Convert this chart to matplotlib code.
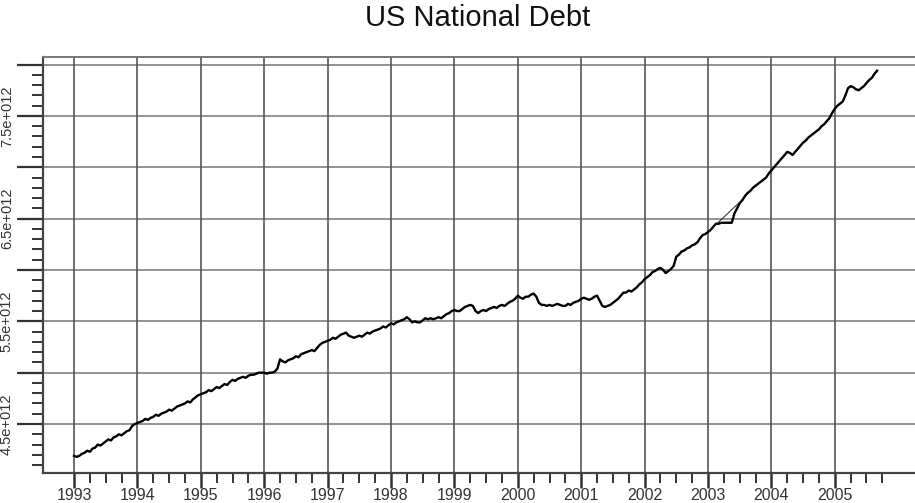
import numpy as np
import matplotlib; matplotlib.use('Agg')
import matplotlib.pyplot as plt
from matplotlib.ticker import MultipleLocator, FixedLocator

# debt in units of 1e12 dollars, two readings per month
START_YEAR = 1993
PER_YEAR = 24
DEBT = [
    # 1993
    4.19, 4.18, 4.19, 4.21, 4.22, 4.24, 4.23, 4.26, 4.27, 4.30, 4.29, 4.31,
    4.33, 4.35, 4.34, 4.37, 4.38, 4.40, 4.39, 4.41, 4.43, 4.44, 4.48, 4.50,
    # 1994
    4.51, 4.52, 4.53, 4.55, 4.54, 4.56, 4.57, 4.59, 4.58, 4.60, 4.61, 4.62,
    4.64, 4.63, 4.65, 4.67, 4.68, 4.69, 4.70, 4.72, 4.71, 4.74, 4.76, 4.78,
    # 1995
    4.79, 4.80, 4.81, 4.83, 4.82, 4.84, 4.86, 4.85, 4.87, 4.89, 4.88, 4.91,
    4.93, 4.92, 4.94, 4.95, 4.96, 4.95, 4.97, 4.98, 4.98, 4.99, 5.00, 5.00,
    # 1996
    5.00, 4.99, 5.00, 5.00, 5.01, 5.04, 5.13, 5.11, 5.10, 5.12, 5.13, 5.14,
    5.16, 5.15, 5.18, 5.19, 5.20, 5.21, 5.22, 5.21, 5.24, 5.27, 5.29, 5.30,
    # 1997
    5.31, 5.32, 5.34, 5.33, 5.35, 5.37, 5.38, 5.39, 5.36, 5.35, 5.34, 5.35,
    5.36, 5.35, 5.37, 5.39, 5.38, 5.40, 5.41, 5.42, 5.43, 5.45, 5.44, 5.46,
    # 1998
    5.48, 5.47, 5.49, 5.50, 5.51, 5.52, 5.54, 5.52, 5.49, 5.50, 5.49, 5.49,
    5.51, 5.53, 5.52, 5.53, 5.52, 5.53, 5.54, 5.53, 5.55, 5.57, 5.58, 5.60,
    # 1999
    5.61, 5.60, 5.60, 5.62, 5.64, 5.65, 5.66, 5.65, 5.60, 5.58, 5.60, 5.61,
    5.60, 5.62, 5.63, 5.64, 5.63, 5.65, 5.66, 5.65, 5.67, 5.69, 5.70, 5.72,
    # 2000
    5.75, 5.73, 5.72, 5.74, 5.74, 5.76, 5.77, 5.74, 5.68, 5.66, 5.66, 5.65,
    5.66, 5.65, 5.66, 5.67, 5.66, 5.65, 5.65, 5.67, 5.66, 5.68, 5.69, 5.70,
    # 2001
    5.72, 5.73, 5.72, 5.71, 5.72, 5.74, 5.75, 5.70, 5.65, 5.64, 5.65, 5.66,
    5.68, 5.70, 5.72, 5.75, 5.78, 5.78, 5.80, 5.79, 5.81, 5.83, 5.86, 5.88,
    # 2002
    5.91, 5.93, 5.95, 5.98, 5.99, 6.01, 6.02, 6.00, 5.97, 5.99, 6.01, 6.04,
    6.13, 6.15, 6.18, 6.19, 6.21, 6.22, 6.24, 6.25, 6.27, 6.31, 6.34, 6.35,
    # 2003
    6.37, 6.39, 6.42, 6.45, 6.45, 6.46, 6.46, 6.46, 6.46, 6.46, 6.55, 6.60,
    6.65, 6.68, 6.72, 6.75, 6.77, 6.80, 6.82, 6.84, 6.86, 6.88, 6.90, 6.94,
    # 2004
    6.97, 7.00, 7.03, 7.06, 7.09, 7.12, 7.15, 7.14, 7.12, 7.15, 7.18, 7.21,
    7.24, 7.26, 7.29, 7.31, 7.33, 7.35, 7.37, 7.40, 7.42, 7.45, 7.48, 7.53,
    # 2005
    7.57, 7.60, 7.62, 7.64, 7.70, 7.77, 7.79, 7.78, 7.76, 7.75, 7.77, 7.79,
    7.82, 7.85, 7.87, 7.91, 7.94,
]
# thin straight segment drawn across the 2003 step
BRIDGE_X = [2003.0, 2003.5]
BRIDGE_Y = [6.37, 6.66]

YEARS = list(range(1993, 2006))
Y_GRID = [4.5, 5.0, 5.5, 6.0, 6.5, 7.0, 7.5, 8.0]
Y_LABELED = [4.5, 5.5, 6.5, 7.5]

dates = START_YEAR + np.arange(len(DEBT)) / PER_YEAR

fig = plt.figure(figsize=(9.15, 5.03), dpi=100)
ax = fig.add_axes([43/915, 1-473/503, 1-43/915, (473-57)/503])
ax.set_xlim(1992.511, 2006.265); ax.set_ylim(4.023, 8.074)

for y in Y_GRID: ax.axhline(y, color='#8a8a8a', lw=1.3, zorder=1)
for x in YEARS: ax.axvline(x, color='#555555', lw=1.2, zorder=1)

ax.plot(dates, DEBT, color='black', lw=1.7, zorder=3)
ax.plot(BRIDGE_X, BRIDGE_Y, color='#222222', lw=0.7, zorder=3)

ax.spines['right'].set_visible(False)
for s in ('left', 'bottom'): ax.spines[s].set_color('#444444'); ax.spines[s].set_linewidth(1.6)
ax.spines['top'].set_color('#777777'); ax.spines['top'].set_linewidth(1.4)

ax.xaxis.set_major_locator(FixedLocator(YEARS))
ax.xaxis.set_minor_locator(FixedLocator([y + q/4 for y in YEARS for q in (1, 2, 3)]))
ax.set_xticklabels([str(y) for y in YEARS], fontsize=11.5, color='#333333', family='Liberation Sans')
ax.tick_params(axis='x', which='major', length=11, width=1.8, color='#333333', pad=0)
ax.tick_params(axis='x', which='minor', length=7, width=1.4, color='#333333')

ax.yaxis.set_major_locator(FixedLocator(Y_GRID))
ax.yaxis.set_minor_locator(MultipleLocator(0.1))
ax.set_yticklabels([f'{y:.1f}e+012' if y in Y_LABELED else '' for y in Y_GRID],
                   rotation=90, va='center', fontsize=10.5, color='#333333', family='Liberation Sans')
ax.tick_params(axis='y', which='major', length=19, width=1.6, color='#333333', pad=2)
ax.tick_params(axis='y', which='minor', length=8, width=1.4, color='#333333')

fig.text(478/915, 1-26/503, 'US National Debt', ha='center', va='baseline',
         fontsize=21, family='Liberation Sans', color='#111111')

fig.savefig('out.png', dpi=100)
